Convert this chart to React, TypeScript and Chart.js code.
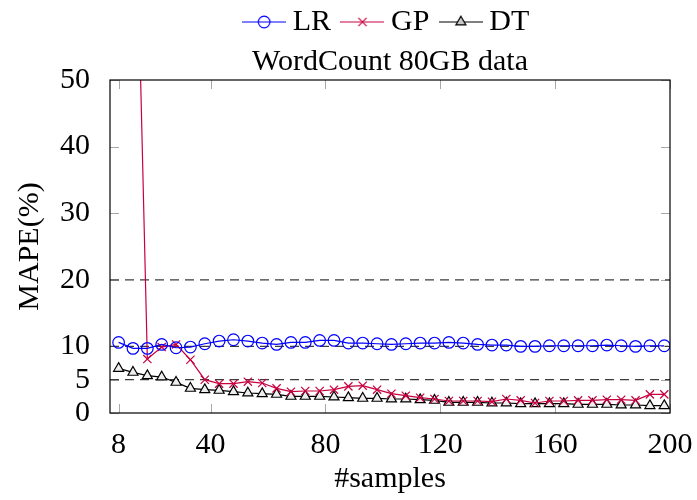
import React, { useEffect, useRef } from 'react';
import { Chart, registerables } from 'chart.js';

Chart.register(...registerables);

// ---- data ----
const samples = [8, 13, 18, 23, 28, 33, 38, 43, 48, 53, 58, 63, 68, 73, 78, 83, 88, 93, 98, 103, 108, 113, 118, 123, 128, 133, 138, 143, 148, 153, 158, 163, 168, 173, 178, 183, 188, 193, 198];
const lrValues = [10.6, 9.7, 9.7, 10.3, 9.8, 9.9, 10.4, 10.8, 11.0, 10.8, 10.5, 10.3, 10.6, 10.6, 10.9, 10.9, 10.5, 10.5, 10.4, 10.3, 10.4, 10.5, 10.5, 10.6, 10.5, 10.3, 10.2, 10.2, 10.0, 10.0, 10.1, 10.1, 10.1, 10.1, 10.2, 10.1, 10.0, 10.1, 10.1];
const gpValues = [null, 98, 8.1, 9.9, 10.3, 8.0, 5.0, 4.4, 4.4, 4.7, 4.5, 3.7, 3.2, 3.3, 3.3, 3.5, 4.0, 4.1, 3.5, 2.9, 2.6, 2.3, 2.1, 1.8, 1.8, 1.8, 1.7, 2.1, 1.9, 1.5, 1.8, 1.8, 1.9, 1.9, 2.0, 2.0, 1.9, 2.8, 2.8];
const dtValues = [6.7, 6.1, 5.6, 5.4, 4.6, 3.7, 3.5, 3.4, 3.2, 3.0, 2.9, 2.8, 2.5, 2.5, 2.5, 2.4, 2.3, 2.2, 2.2, 2.1, 2.1, 2.0, 1.9, 1.6, 1.6, 1.6, 1.5, 1.5, 1.4, 1.4, 1.4, 1.4, 1.3, 1.3, 1.3, 1.2, 1.2, 1.1, 1.1];
const xTickValues = [8, 40, 80, 120, 160, 200];
const yTickValues = [0, 5, 10, 20, 30, 40, 50];
const refLevels = [5, 10, 20];
const seriesNames = ['LR', 'GP', 'DT'];
const chartTitle = 'WordCount 80GB data';
const xLabel = '#samples';
const yLabel = 'MAPE(%)';

// ---- styling ----
const FONT = "'Liberation Serif', 'Times New Roman', serif";
const FS = 30;
const OY = 11;
const CW = 780;
const CH = 511;
const BLUE = '#0000ff';
const RED = '#c80040';
const BLACK = '#000000';
const TRI_FILL = '#eeeeee';
const MR = 5.8;

function makeSample(kind: number): HTMLCanvasElement {
  const c = document.createElement('canvas');
  c.width = 44;
  c.height = 18;
  const ctx = c.getContext('2d')!;
  const cy = 9;
  const cx = 22;
  const col = kind === 0 ? BLUE : kind === 1 ? RED : BLACK;
  ctx.strokeStyle = col;
  ctx.lineWidth = 1.2;
  ctx.beginPath();
  ctx.moveTo(0, cy);
  ctx.lineTo(44, cy);
  ctx.stroke();
  ctx.beginPath();
  if (kind === 0) {
    ctx.arc(cx, cy, MR, 0, Math.PI * 2);
    ctx.stroke();
  } else if (kind === 1) {
    const d = MR * Math.SQRT1_2;
    ctx.moveTo(cx - d, cy - d);
    ctx.lineTo(cx + d, cy + d);
    ctx.moveTo(cx - d, cy + d);
    ctx.lineTo(cx + d, cy - d);
    ctx.stroke();
  } else {
    const a = Math.PI * 2 / 3;
    ctx.moveTo(cx, cy - MR);
    ctx.lineTo(cx + Math.sin(a) * MR, cy - Math.cos(a) * MR);
    ctx.lineTo(cx + Math.sin(2 * a) * MR, cy - Math.cos(2 * a) * MR);
    ctx.closePath();
    ctx.fillStyle = '#c8c8c8';
    ctx.fill();
    ctx.stroke();
  }
  return c;
}

const tickPlugin = {
  id: 'innerTicks',
  beforeDatasetsDraw(chart: any) {
    const { ctx, chartArea, scales } = chart;
    const { left, right, top, bottom } = chartArea;
    const L = 9;
    ctx.save();
    ctx.strokeStyle = '#a8a8a8';
    ctx.lineWidth = 1;
    ctx.beginPath();
    xTickValues.forEach((v) => {
      const px = Math.round(scales.x.getPixelForValue(v)) + 0.5;
      ctx.moveTo(px, bottom);
      ctx.lineTo(px, bottom - L);
      ctx.moveTo(px, top);
      ctx.lineTo(px, top + L);
    });
    yTickValues.forEach((v) => {
      const py = Math.round(scales.y.getPixelForValue(v)) + 0.5;
      ctx.moveTo(left, py);
      ctx.lineTo(left + L, py);
      ctx.moveTo(right, py);
      ctx.lineTo(right - L, py);
    });
    ctx.stroke();
    ctx.restore();
  },
  afterDatasetsDraw(chart: any) {
    const { ctx, chartArea } = chart;
    const { left, right, top, bottom } = chartArea;
    ctx.save();
    ctx.strokeStyle = '#000';
    ctx.lineWidth = 1.2;
    ctx.strokeRect(left, top, right - left, bottom - top);
    ctx.restore();
  },
};

export default function App() {
  const ref = useRef<HTMLCanvasElement>(null);

  useEffect(() => {
    document.body.style.margin = '0';
    const images = [makeSample(0), makeSample(1), makeSample(2)];
    const seriesColors = [BLUE, RED, BLACK];
    const seriesValues = [lrValues, gpValues, dtValues];
    const pointStyles = ['circle', 'crossRot', 'triangle'];
    const pointFills = ['rgba(0,0,0,0)', RED, TRI_FILL];

    const seriesSets = seriesNames.map((name, i) => ({
      label: name,
      data: samples.map((x, j) => ({ x, y: seriesValues[i][j] })),
      borderColor: seriesColors[i],
      backgroundColor: seriesColors[i],
      borderWidth: 1.2,
      pointStyle: pointStyles[i],
      pointRadius: MR,
      pointBorderWidth: 1.2,
      pointBorderColor: seriesColors[i],
      pointBackgroundColor: pointFills[i],
      tension: 0,
      spanGaps: false,
    }));

    const refSets = refLevels.map((lvl) => ({
      label: 'ref' + lvl,
      data: [{ x: 5, y: lvl }, { x: 200, y: lvl }],
      borderColor: '#3c3c3c',
      borderWidth: 1.3,
      borderDash: [9, 6],
      pointRadius: 0,
      tension: 0,
    }));

    const chart = new Chart(ref.current!, {
      type: 'line',
      data: { datasets: [...seriesSets, ...refSets] as any },
      plugins: [tickPlugin],
      options: {
        animation: false,
        responsive: true,
        maintainAspectRatio: false,
        layout: { padding: { left: 12, right: 110, top: 0, bottom: 0 } },
        plugins: {
          tooltip: { enabled: false },
          legend: {
            display: true,
            position: 'top',
            fullSize: false,
            weight: 3000,
            labels: {
              usePointStyle: true,
              pointStyleWidth: 27,
              padding: 18,
              color: '#000',
              font: { family: FONT, size: FS },
              generateLabels: () =>
                seriesNames.map((name, i) => ({
                  text: name,
                  datasetIndex: i,
                  pointStyle: images[i] as any,
                  fillStyle: 'rgba(0,0,0,0)',
                  strokeStyle: 'rgba(0,0,0,0)',
                  lineWidth: 0,
                  hidden: false,
                  fontColor: '#000',
                })),
            },
          },
          title: {
            display: true,
            fullSize: false,
            weight: 500,
            text: chartTitle,
            color: '#000',
            font: { family: FONT, size: FS, weight: 'normal', lineHeight: 1.0 },
            padding: { top: 0, bottom: 3 },
          },
        },
        scales: {
          x: {
            type: 'linear',
            min: 5,
            max: 200,
            grid: { display: false },
            border: { display: false },
            afterBuildTicks: (scale: any) => {
              scale.ticks = xTickValues.map((v) => ({ value: v }));
            },
            afterFit: (scale: any) => {
              scale.height = CH - OY - 413;
            },
            ticks: {
              autoSkip: false,
              maxRotation: 0,
              color: '#000',
              padding: 6,
              font: { family: FONT, size: FS },
            },
            title: {
              display: true,
              text: xLabel,
              color: '#000',
              font: { family: FONT, size: FS },
              padding: { top: 0, bottom: 3 },
            },
          },
          y: {
            type: 'linear',
            min: 0,
            max: 50,
            grid: { display: false },
            border: { display: false },
            afterBuildTicks: (scale: any) => {
              scale.ticks = yTickValues.map((v) => ({ value: v }));
            },
            afterFit: (scale: any) => {
              scale.width = 98;
            },
            ticks: {
              autoSkip: false,
              color: '#000',
              padding: 12,
              font: { family: FONT, size: FS },
            },
            title: {
              display: true,
              text: yLabel,
              color: '#000',
              font: { family: FONT, size: FS },
              padding: { top: 0, bottom: 0 },
            },
          },
        },
      } as any,
    });
    return () => chart.destroy();
  }, []);

  return (
    <div style={{ width: 697, height: 500, overflow: 'hidden', position: 'relative' }}>
      <div style={{ position: 'absolute', left: 0, top: -OY, width: CW, height: CH }}>
        <canvas ref={ref} />
      </div>
    </div>
  );
}
